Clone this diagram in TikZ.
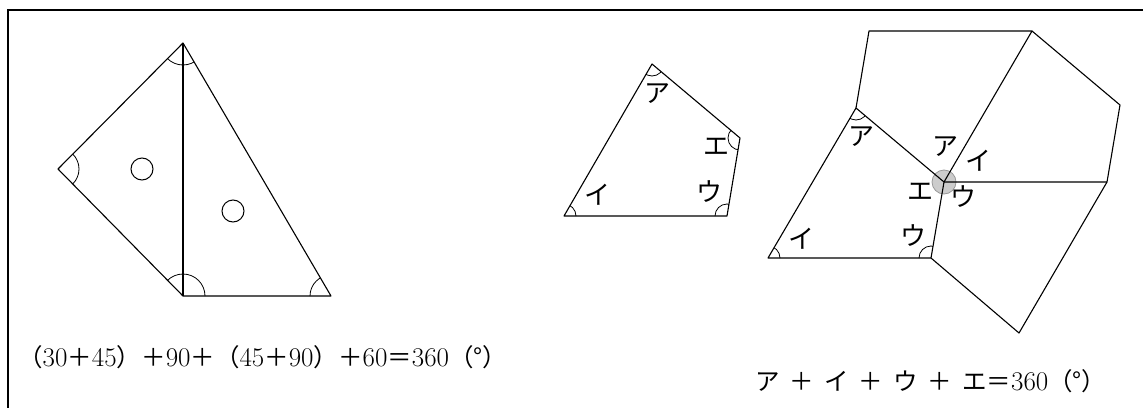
\documentclass[tikz,border=0pt]{standalone}
\usepackage{fontspec}
\newfontfamily\jp{Noto Sans CJK JP}
\newcommand{\dg}[1]{{\fontsize{27}{27}\selectfont #1}}
\begin{document}
\begin{tikzpicture}[x=1pt,y=-1pt,
  frame/.style={line width=2pt},
  edge/.style={line width=1.1pt, line join=round},
  boldedge/.style={line width=1.9pt},
  arcmark/.style={line width=0.8pt},
  ring/.style={circle, draw, line width=1pt, minimum size=22pt, inner sep=0pt},
  lbl/.style={font=\jp\fontsize{26}{26}\selectfont, inner sep=0pt},
  formula/.style={font=\fontsize{24.5}{25}\selectfont, inner sep=0pt, anchor=west}]
\useasboundingbox (0,0) rectangle (1143,407);
% frame
\draw[frame] (8,408) -- (8,10) -- (1144,10);

% ---------- left figure ----------
\coordinate (T) at (183,43);
\coordinate (L) at (58,169);
\coordinate (B) at (183,296);
\coordinate (R) at (331,296);
\begin{scope}
  \clip (T) -- (L) -- (B) -- (R) -- cycle;
  \draw[arcmark] (T) circle[radius=22pt];
  \draw[arcmark] (L) circle[radius=21pt];
  \draw[arcmark] (B) circle[radius=22pt];
  \draw[arcmark] (R) circle[radius=21pt];
\end{scope}
\draw[edge] (T) -- (L) -- (B) -- (R) -- cycle;
\draw[boldedge] (T) -- (B);
\node[ring] (c1) at (142,169) {};
\node[ring] (c2) at (233,211) {};
\node[formula] (f1) at (18,357) {{\jp （}\dg{30}{\jp ＋}\dg{45}{\jp ）＋}\dg{90}{\jp ＋（}\dg{45}{\jp ＋}\dg{90}{\jp ）＋}\dg{60}{\jp ＝}\dg{360}{\jp （°）}};

% ---------- middle quadrilateral ----------
\coordinate (mA) at (652,64);
\coordinate (mE) at (740,138);
\coordinate (mU) at (727,216);
\coordinate (mI) at (564,216);
\begin{scope}
  \clip (mA) -- (mI) -- (mU) -- (mE) -- cycle;
  \foreach \v in {mA,mE,mU,mI} \draw[arcmark] (\v) circle[radius=12pt];
\end{scope}
\draw[edge] (mA) -- (mI) -- (mU) -- (mE) -- cycle;
\node[lbl] (mlA) at (657,94) {ア};
\node[lbl] (mlE) at (716,147) {エ};
\node[lbl] (mlU) at (709,192) {ウ};
\node[lbl] (mlI) at (597,195) {イ};

% ---------- right tiling ----------
\coordinate (O)  at (944,182);
\coordinate (A1) at (856,108);
\coordinate (I1) at (768,258);
\coordinate (U1) at (931,258);
\coordinate (P1) at (869,31);
\coordinate (P2) at (1032,31);
\coordinate (P3) at (1120,105);
\coordinate (P4) at (1107,182);
\coordinate (P5) at (1019,333);
\fill[gray!40] (O) circle[radius=12pt];
\draw[gray!80, line width=0.8pt] (O) circle[radius=12pt];
\begin{scope}
  \clip (O) -- (A1) -- (I1) -- (U1) -- cycle;
  \foreach \v in {A1,I1,U1} \draw[arcmark] (\v) circle[radius=12pt];
\end{scope}
\draw[edge] (O) -- (A1) -- (I1) -- (U1) -- cycle;
\draw[edge] (A1) -- (P1) -- (P2) -- (O);
\draw[edge] (P2) -- (P3) -- (P4) -- (O);
\draw[edge] (U1) -- (P5) -- (P4);
\node[lbl] (rlA) at (861,137) {ア};
\node[lbl] (rlI) at (801,239) {イ};
\node[lbl] (rlU) at (913,236) {ウ};
\node[lbl] (olA) at (945,147) {ア};
\node[lbl] (olI) at (978,161) {イ};
\node[lbl] (olU) at (963,197) {ウ};
\node[lbl] (olE) at (920,192) {エ};
\node[formula] (f2) at (755,381) {{\jp ア\hspace{10pt}＋\hspace{10pt}イ\hspace{10pt}＋\hspace{10pt}ウ\hspace{10pt}＋\hspace{10pt}エ＝}\dg{360}{\jp （°）}};
\end{tikzpicture}
\end{document}
